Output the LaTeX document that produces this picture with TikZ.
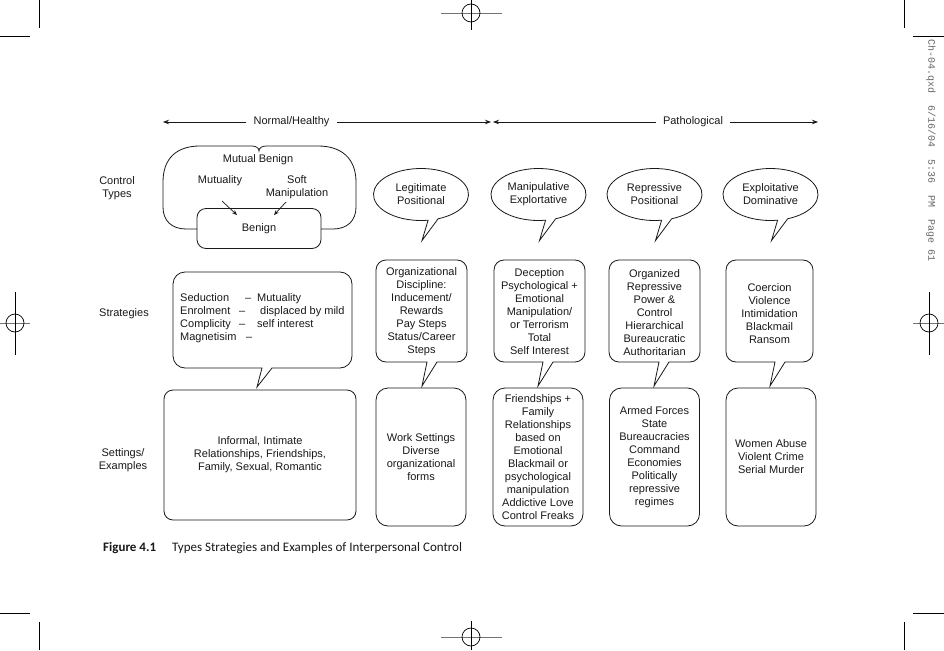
\documentclass[tikz,border=0pt]{standalone}
\usepackage{fontspec}
\setmainfont{Liberation Sans}
\newfontfamily\capfont{Carlito}
\newfontfamily\slugfont{Liberation Mono}
\usetikzlibrary{arrows.meta}
% rounded speech box: x1 y1 x2 y2 tipx tipy radius
\newcommand\rbub[7]{%
\draw[outline] ({#5+15},#4) -- ({#3-#7},#4) arc[start angle=90,end angle=0,radius=#7]
 -- (#3,{#2+#7}) arc[start angle=0,end angle=-90,radius=#7]
 -- ({#1+#7},#2) arc[start angle=-90,end angle=-180,radius=#7]
 -- (#1,{#4-#7}) arc[start angle=180,end angle=90,radius=#7]
 -- ({#5+5},#4) -- (#5,#6) -- cycle;}
% elliptic speech bubble around a node
\newcommand\ebub[1]{%
\draw[outline] ([shift={(1,46)}]#1.center) -- ([shift={(68.8:47.5 and 26)}]#1.center)
 arc[start angle=68.8,end angle=-278.6,x radius=47.5,y radius=26] -- cycle;}
\begin{document}
\begin{tikzpicture}[x=1pt,y=-1pt,
  txt/.style={font=\fontsize{11}{13}\selectfont, align=center, inner sep=0pt, text=black!90},
  outline/.style={draw=black!90, line width=0.8pt},
  arr/.style={draw=black!90, line width=0.8pt, -{Stealth[length=6pt,width=4.5pt]}},
  smallarr/.style={draw=black!90, line width=0.7pt, -{Stealth[length=5pt,width=4pt]}},
  crop/.style={draw=black, line width=0.8pt},
  reg/.style={draw=black!55, line width=0.6pt},
  setbox/.style={txt, outline, rounded corners=12pt, minimum width=90pt, minimum height=138pt}]
\fill[white] (0,0) rectangle (944,650);
\useasboundingbox (0,0) rectangle (944,650);

% ---- crop and registration marks
\draw[crop] (39,0) -- (39,28);   \draw[crop] (0,36.5) -- (30,36.5);
\draw[crop] (904,0) -- (904,28); \draw[crop] (913,36.5) -- (944,36.5);
\draw[crop] (0,613) -- (30,613); \draw[crop] (39,622) -- (39,650);
\draw[crop] (913,613) -- (944,613); \draw[crop] (904,622) -- (904,650);
\draw[reg] (441,13) -- (502,13); \draw[crop] (471,0) -- (471,30); \draw[crop,line width=0.7pt] (471,13) circle[radius=9];
\draw[reg] (441,637) -- (502,637); \draw[crop] (471,621) -- (471,650); \draw[crop,line width=0.7pt] (471,637) circle[radius=9];
\draw[reg] (0,323) -- (30,323); \draw[crop] (15,292) -- (15,355); \draw[crop,line width=0.7pt] (15,323) circle[radius=9];
\draw[reg] (913,323) -- (944,323); \draw[crop] (929,292) -- (929,355); \draw[crop,line width=0.7pt] (929,323) circle[radius=9];
\node[rotate=-90, anchor=west, inner sep=0pt, font=\slugfont\fontsize{10}{12}\selectfont, text=black!60] (slug) at (931,39)
  {Ch-04.qxd~~6/16/04~~5:36~~PM~~Page~61};

% ---- header
\node[txt, inner xsep=7pt] (nh) at (291.5,122) {Normal/Healthy};
\node[txt, inner xsep=7pt] (pa) at (693,122) {Pathological};
\coordinate (lt) at (163,122); \coordinate (mt1) at (491,122);
\coordinate (mt2) at (493,122); \coordinate (rt) at (818,122);
\draw[arr] (nh.west) -- (lt);
\draw[arr] (nh.east) -- (mt1);
\draw[arr] (pa.west) -- (mt2);
\draw[arr] (pa.east) -- (rt);

% ---- row labels
\node[txt] (lct) at (117,188.5) {Control\\Types};
\node[txt] (lst) at (124,314) {Strategies};
\node[txt] (lse) at (123,460.5) {Settings/\\Examples};

% ---- mutual benign
\draw[outline] (197,229) -- (186,229) .. controls (172,229) and (163,221) .. (163,207) -- (163,182)
  .. controls (163,158) and (177,146) .. (200,146) -- (252,146)
  .. controls (256,146) and (259,148) .. (259,151)
  .. controls (259,148) and (262,146) .. (266,146) -- (318,146)
  .. controls (341,146) and (356,158) .. (356,182) -- (356,207)
  .. controls (356,221) and (347,229) .. (333,229) -- (321,229);
\node[txt, outline, rounded corners=9pt, minimum width=124pt, minimum height=40pt] (bn) at (259,228.5) {Benign};
\node[txt] (mb) at (258,160) {Mutual Benign};
\node[txt] (mu) at (220,181) {Mutuality};
\node[txt] (sm) at (297,187) {Soft\\Manipulation};
\coordinate (a1s) at (222,201); \coordinate (a1e) at (237,215);
\coordinate (a2s) at (286,202); \coordinate (a2e) at (274,215);
\draw[smallarr] (a1s) -- (a1e);
\draw[smallarr] (a2s) -- (a2e);

% ---- control type bubbles
\node[txt] (c2) at (421,194.5) {Legitimate\\Positional};
\node[txt] (c3) at (538.5,194.5) {Manipulative\\Explortative};
\node[txt] (c4) at (654.5,194.5) {Repressive\\Positional};
\node[txt] (c5) at (770.5,194.5) {Exploitative\\Dominative};
\ebub{c2}\ebub{c3}\ebub{c4}\ebub{c5}

% ---- strategies
\rbub{173}{272}{352}{368}{257}{387}{12}
\node[txt, align=left, anchor=west] (s1) at (180,318.5) {%
\makebox[65pt][l]{Seduction}\makebox[12pt][l]{--}Mutuality\\
\makebox[59pt][l]{Enrolment}\makebox[21pt][l]{--}displaced by mild\\
\makebox[59pt][l]{Complicity}\makebox[18pt][l]{--}self interest\\
\makebox[66pt][l]{Magnetisim}--};
\rbub{376}{260}{467}{362}{422}{386}{10}
\node[txt] (s2) at (421.5,312) {Organizational\\Discipline:\\Inducement/\\Rewards\\Pay Steps\\Status/Career\\Steps};
\rbub{494}{260}{585}{362}{538}{386}{10}
\node[txt] (s3) at (539.5,311.5) {Deception\\Psychological +\\Emotional\\Manipulation/\\or Terrorism\\Total\\Self Interest};
\rbub{609}{260}{700}{362}{654}{386}{10}
\node[txt] (s4) at (654.5,312.5) {Organized\\Repressive\\Power \&\\Control\\Hierarchical\\Bureaucratic\\Authoritarian};
\rbub{726}{260}{813}{362}{770}{386}{10}
\node[txt] (s5) at (769.5,313.5) {Coercion\\Violence\\Intimidation\\Blackmail\\Ransom};

% ---- settings
\node[setbox, rounded corners=9pt, minimum width=192pt, minimum height=130pt] (x1) at (260,455)
  {Informal, Intimate\\Relationships, Friendships,\\Family, Sexual, Romantic};
\node[setbox] (x2) at (421,457) {Work Settings\\Diverse\\organizational\\forms};
\node[setbox] (x3) at (538,457) {Friendships +\\Family\\Relationships\\based on\\Emotional\\Blackmail or\\psychological\\manipulation\\Addictive Love\\Control Freaks};
\node[setbox] (x4) at (654.5,457) {Armed Forces\\State\\Bureaucracies\\Command\\Economies\\Politically\\repressive\\regimes};
\node[setbox] (x5) at (771,457) {Women Abuse\\Violent Crime\\Serial Murder};

% ---- caption
\node[anchor=base west, inner sep=0pt, font=\capfont\fontsize{13}{15}\selectfont, text=black!90] (cap) at (103,551)
  {\makebox[69pt][l]{\textbf{Figure 4.1}}Types Strategies and Examples of Interpersonal Control};
\end{tikzpicture}
\end{document}
